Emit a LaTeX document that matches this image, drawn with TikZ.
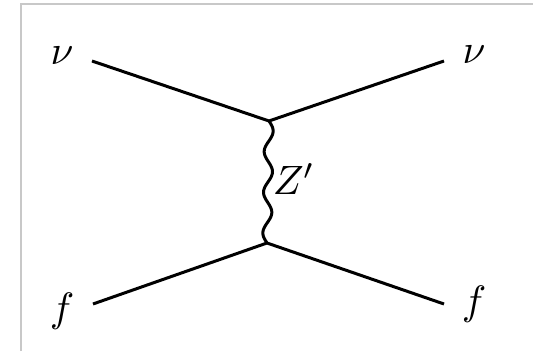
\documentclass[tikz,border=0pt]{standalone}
\begin{document}
\begin{tikzpicture}[x=1pt,y=1pt,
  fermion/.style={line width=3pt},
  boson/.style={line width=3pt,line join=round},
  lbl/.style={inner sep=0pt,scale=4.1}]
\useasboundingbox (0,0) rectangle (533,351);
\draw[color={rgb,255:red,200;green,200;blue,200},line width=1.2pt] (21,0) -- (21,347) -- (533,347);
\coordinate (v1) at (269,230);
\coordinate (v2) at (267,108);
\coordinate (a) at (92,290);
\coordinate (b) at (444,290);
\coordinate (c) at (93,47);
\coordinate (d) at (444,47);
\node[lbl] (n1) at (62,295) {$\nu$};
\node[lbl] (n2) at (474,296) {$\nu$};
\node[lbl] (f1) at (62,40) {$f$};
\node[lbl] (f2) at (474,47) {$f$};
\draw[fermion] (a) -- (v1) -- (b);
\draw[fermion] (c) -- (v2) -- (d);
\draw[boson] (v1) plot[domain=0:1,samples=150,smooth] ({269-2*\x+4.3*sin(1080*\x)},{230-122*\x}) -- (v2);
\node[lbl,anchor=west] (z) at (272,172) {$Z'$};
\end{tikzpicture}
\end{document}
